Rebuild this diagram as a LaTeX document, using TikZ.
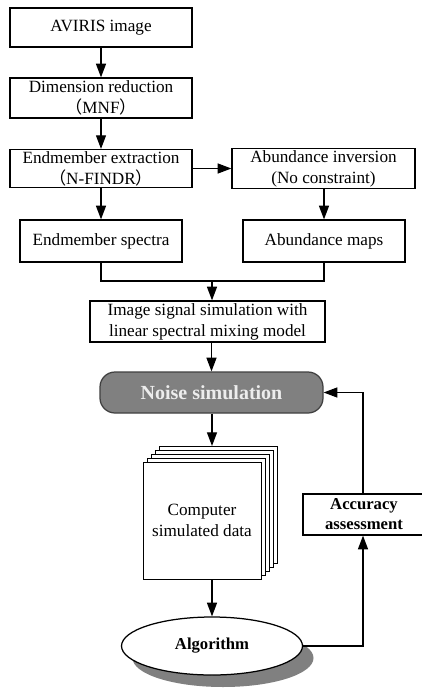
\documentclass[tikz,border=0pt]{standalone}
\usepackage{fontspec}
\setmainfont{Liberation Serif}
\newfontfamily\cjk{Noto Sans CJK SC}
\usetikzlibrary{arrows.meta,shapes.geometric,shadows,calc}

\begin{document}
\begin{tikzpicture}[x=0.6pt,y=-0.6pt,line width=0.75pt,
  box/.style={draw,fill=white,align=center,inner sep=1pt,
    font=\fontsize{10.3}{12.6}\selectfont},
  boldbox/.style={draw,fill=white,align=center,inner sep=1pt,
    font=\fontsize{10}{12}\selectfont\bfseries},
  arr/.style={-{Triangle[length=8.2pt,width=6pt]}},
  page/.style={draw,fill=white,line width=0.6pt}]
\fill[white] (0,0) rectangle (421,689);
\useasboundingbox (0,0) rectangle (421,689);

% upper chain
\node[box,minimum width=109.2pt,minimum height=23.4pt] (avir) at (101,27.5) {AVIRIS image};
\node[box,minimum width=109.2pt,minimum height=24pt] (dim) at (101,98)
  {Dimension reduction\\{\cjk（}MNF{\cjk）}};
\node[box,minimum width=109.2pt,minimum height=22.2pt] (ext) at (101,168.5)
  {Endmember extraction\\{\cjk（}N-FINDR{\cjk）}};
\node[box,minimum width=109.8pt,minimum height=22.2pt] (inv) at (323.5,168.5)
  {Abundance inversion\\(No constraint)};
\node[box,minimum width=97.2pt,minimum height=25.2pt] (spec) at (101,241) {Endmember spectra};
\node[box,minimum width=97.2pt,minimum height=25.2pt] (maps) at (324,241) {Abundance maps};
\node[box,minimum width=141pt,minimum height=24.6pt] (img) at (207.5,321.5)
  {Image signal simulation with\\linear spectral mixing model};

% noise simulation
\node[draw=black!75,fill=black!50,rounded corners=9pt,minimum width=133.8pt,minimum height=24.6pt,
  text=white!93!black,font=\fontsize{12}{14}\selectfont\bfseries] (noise) at (211.5,392.5) {Noise simulation};

% stack of simulated data pages
\foreach \k in {4,3,2,1}
  \draw[page] (143+4*\k,462-4*\k) rectangle (261+4*\k,579-4*\k);
\node[box,line width=0.6pt,minimum width=70.8pt,minimum height=70.2pt] (data) at (202,520.5)
  {Computer\\simulated data};
\coordinate (stacktop) at (212,446);

% algorithm with shadow
\node[draw,fill=white,ellipse,minimum width=108.6pt,minimum height=34.8pt,inner sep=0pt,
  font=\fontsize{10}{12}\selectfont\bfseries,
  drop shadow={shadow xshift=6.6pt,shadow yshift=-7.2pt,fill=black!50,opacity=1}]
  (alg) at (212,646) {Algorithm};

% accuracy assessment (runs off the right edge)
\node[boldbox,minimum width=73.2pt,minimum height=24.6pt] (acc) at (364,514.5)
  {Accuracy\\assessment};

% connectors
\draw[arr] (avir) -- (dim);
\draw[arr] (dim) -- (ext);
\draw[arr] (ext) -- (inv);
\draw[arr] (ext) -- (spec);
\draw[arr] (inv.south -| maps.north) -- (maps.north);
\coordinate (join) at (212,281);
\draw (spec.south) |- (join) -| (maps.south);
\draw[arr] (join) -- (img.north -| join);
\draw[arr] (noise.north |- img.south) -- (noise.north);
\draw[arr] (noise.south -| stacktop) -- (stacktop);
\draw[arr] (data.south -| alg.north) -- (alg.north);
\draw[arr] (alg.east) -| ([xshift=-0.6pt]acc.south);
\draw[arr] ([xshift=-0.6pt]acc.north) |- (noise.east);
\end{tikzpicture}
\end{document}
